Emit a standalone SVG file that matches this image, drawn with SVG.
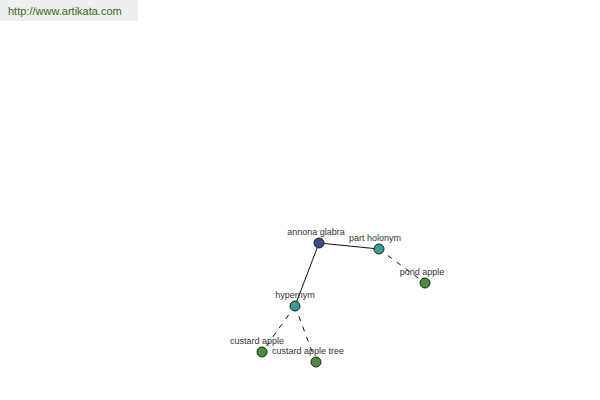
<svg xmlns="http://www.w3.org/2000/svg" width="600" height="400" viewBox="0 0 600 400">
<style>
.lbl{font-family:"Liberation Sans",Arial,sans-serif;font-size:9px;fill:#333;text-anchor:middle}
.n{stroke:#222;stroke-width:1}
.e{stroke:#111;stroke-width:1;fill:none}
.d{stroke-dasharray:5,6}
</style>
<rect width="600" height="400" fill="#fff"/>
<rect x="0" y="0" width="138" height="21" fill="#eeeeee"/>
<text x="8" y="15" font-family="'Liberation Sans',Arial,sans-serif" font-size="11" fill="#3a6a1a">http://www.artikata.com</text>
<g id="connectors">
<line class="e" x1="319" y1="243" x2="379" y2="249"/>
<line class="e" x1="319" y1="243" x2="295" y2="306"/>
<line class="e d" x1="379" y1="249" x2="425" y2="283"/>
<line class="e d" x1="295" y1="306" x2="262" y2="352"/>
<line class="e d" x1="295" y1="306" x2="316" y2="362"/>
</g>
<g id="annona-glabra"><circle class="n" cx="319" cy="243" r="5" fill="#3b4a8c"/><text class="lbl" x="316" y="235">annona glabra</text></g>
<g id="part-holonym"><circle class="n" cx="379" cy="249" r="5" fill="#3a9a96"/><text class="lbl" x="375" y="241">part holonym</text></g>
<g id="pond-apple"><circle class="n" cx="425" cy="283" r="5" fill="#4a8c3e"/><text class="lbl" x="422" y="275">pond apple</text></g>
<g id="hypernym"><circle class="n" cx="295" cy="306" r="5" fill="#3a9a96"/><text class="lbl" x="295" y="298">hypernym</text></g>
<g id="custard-apple"><circle class="n" cx="262" cy="352" r="5" fill="#4a8c3e"/><text class="lbl" x="257" y="344">custard apple</text></g>
<g id="custard-apple-tree"><circle class="n" cx="316" cy="362" r="5" fill="#4a8c3e"/><text class="lbl" x="308" y="354">custard apple tree</text></g>
</svg>
